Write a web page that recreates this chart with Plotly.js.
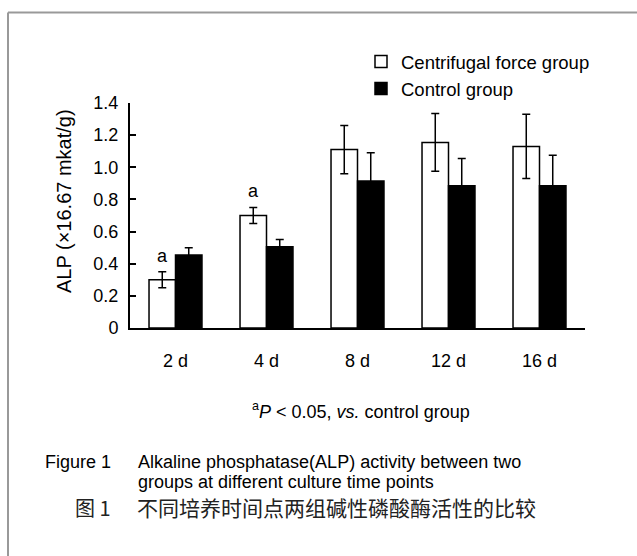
<!DOCTYPE html>
<html>
<head>
<meta charset="utf-8">
<script src="https://cdn.plot.ly/plotly-3.0.1.min.js"></script>
<style>html,body{margin:0;padding:0;background:#fff;}#chart{width:637px;height:556px;}</style>
</head>
<body>
<div id="chart"></div>
<script>
// Data
const categories = ["2 d", "4 d", "8 d", "12 d", "16 d"];
const centrifugalMean = [0.30, 0.70, 1.11, 1.155, 1.13];
const centrifugalErr  = [0.05, 0.05, 0.15, 0.18, 0.20];
const controlMean = [0.455, 0.505, 0.915, 0.885, 0.885];
const controlErr  = [0.045, 0.045, 0.175, 0.17, 0.19];
const significant = ["a", "a", "", "", ""];
const yTicks = [0, 0.2, 0.4, 0.6, 0.8, 1.0, 1.2, 1.4];
const yTickLabels = ["0", "0.2", "0.4", "0.6", "0.8", "1.0", "1.2", "1.4"];

const FONT = "Liberation Sans, Arial, Helvetica, sans-serif";
const CJK = "Noto Sans CJK SC, sans-serif";
const bargap = 0.418;

const traces = [
  {
    type: "bar", name: "Centrifugal force group",
    x: categories, y: centrifugalMean,
    marker: {color: "#ffffff", line: {color: "#000000", width: 1.5}},
    error_y: {type: "data", array: centrifugalErr, visible: true, color: "#000000", thickness: 1.5, width: 4}
  },
  {
    type: "bar", name: "Control group",
    x: categories, y: controlMean,
    marker: {color: "#000000", line: {color: "#000000", width: 1.5}},
    error_y: {type: "data", array: controlErr, visible: true, color: "#000000", thickness: 1.5, width: 4}
  }
];

// pixel -> paper helpers (plot area: x 130..585, y 103..328)
const L = 130, R = 52, T = 103, B = 228, W = 637, H = 556;
const pw = W - L - R, ph = H - T - B;
const px = v => (v - L) / pw;
const py = v => (H - B - v) / ph;

const annotations = [];
significant.forEach((s, i) => {
  if (s) {
    annotations.push({
      x: i - (1 - bargap) / 4, y: centrifugalMean[i] + centrifugalErr[i],
      xref: "x", yref: "y", text: s, showarrow: false,
      xanchor: "center", yanchor: "bottom", yshift: 4,
      font: {family: FONT, size: 18, color: "#000"}
    });
  }
});
annotations.push(
  {x: px(64), y: py(201), xref: "paper", yref: "paper", text: "ALP (×16.67 mkat/g)", textangle: -90,
   showarrow: false, xanchor: "center", yanchor: "middle", font: {family: FONT, size: 20, color: "#000"}},
  {x: px(361), y: py(410), xref: "paper", yref: "paper",
   text: "<sup>a</sup><i>P</i> &lt; 0.05, <i>vs.</i> control group",
   showarrow: false, xanchor: "center", yanchor: "middle", font: {family: FONT, size: 18, color: "#000"}},
  {x: px(113), y: py(462), xref: "paper", yref: "paper", text: "Figure 1",
   showarrow: false, xanchor: "right", yanchor: "middle", font: {family: FONT, size: 18, color: "#000"}},
  {x: px(136), y: py(462), xref: "paper", yref: "paper", text: "Alkaline phosphatase(ALP) activity between two",
   showarrow: false, xanchor: "left", yanchor: "middle", font: {family: FONT, size: 18, color: "#000"}},
  {x: px(136), y: py(482), xref: "paper", yref: "paper", text: "groups at different culture time points",
   showarrow: false, xanchor: "left", yanchor: "middle", font: {family: FONT, size: 18, color: "#000"}},
  {x: px(113), y: py(507), xref: "paper", yref: "paper", text: "图 1",
   showarrow: false, xanchor: "right", yanchor: "middle", font: {family: CJK, size: 20, color: "#222"}},
  {x: px(135), y: py(507), xref: "paper", yref: "paper", text: "不同培养时间点两组碱性磷酸酶活性的比较",
   showarrow: false, xanchor: "left", yanchor: "middle", font: {family: CJK, size: 21, color: "#222"}}
);

const layout = {
  width: W, height: H,
  margin: {l: L, r: R, t: T, b: B, pad: 0},
  paper_bgcolor: "#ffffff", plot_bgcolor: "#ffffff",
  font: {family: FONT, size: 18, color: "#000"},
  barmode: "group", bargap: bargap, bargroupgap: 0,
  showlegend: true,
  legend: {x: px(361), y: py(43), xanchor: "left", yanchor: "top",
           font: {family: FONT, size: 18.5, color: "#000"}, bgcolor: "rgba(0,0,0,0)", tracegroupgap: 0},
  xaxis: {
    type: "category", showgrid: false, zeroline: false,
    showline: true, linecolor: "#000", linewidth: 2,
    ticks: "", ticklabelstandoff: 15,
    tickfont: {family: FONT, size: 18, color: "#000"}
  },
  yaxis: {
    range: [0, 1.4], showgrid: false, zeroline: false,
    showline: true, linecolor: "#000", linewidth: 2,
    ticks: "inside", ticklen: 6, tickwidth: 2, tickcolor: "#000",
    tickvals: yTicks, ticktext: yTickLabels, ticklabelstandoff: 6,
    tickfont: {family: FONT, size: 18, color: "#000"}
  },
  annotations: annotations,
  shapes: [
    {type: "line", xref: "paper", yref: "paper", x0: px(8), x1: px(W + 5), y0: py(12.5), y1: py(12.5),
     line: {color: "#999999", width: 2}},
    {type: "line", xref: "paper", yref: "paper", x0: px(8), x1: px(8), y0: py(12.5), y1: py(H + 5),
     line: {color: "#999999", width: 2}}
  ]
};

Plotly.newPlot("chart", traces, layout, {staticPlot: true, displayModeBar: false});
</script>
</body>
</html>
